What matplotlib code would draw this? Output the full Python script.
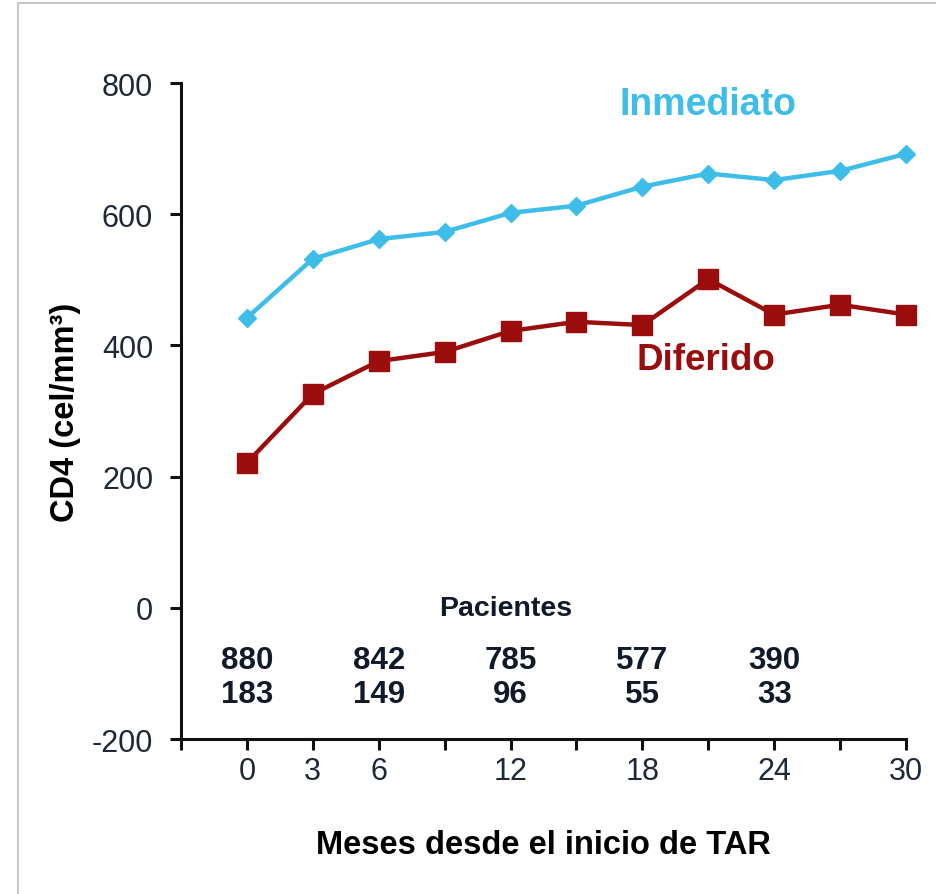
import matplotlib
matplotlib.use("Agg")
import matplotlib.pyplot as plt
from matplotlib.patches import Rectangle

months = [0, 3, 6, 9, 12, 15, 18, 21, 24, 27, 30]
inmediato = [442, 532, 562, 573, 602, 613, 642, 662, 652, 666, 692]
diferido = [221, 326, 376, 390, 422, 436, 431, 501, 447, 462, 447]
xtick_pos = [-3, 0, 3, 6, 9, 12, 15, 18, 21, 24, 27, 30]
xtick_labels = ["", "0", "3", "6", "", "12", "", "18", "", "24", "", "30"]
yticks = [-200, 0, 200, 400, 600, 800]
pac_x = [0, 6, 12, 18, 24]
pac_inm = ["880", "842", "785", "577", "390"]
pac_dif = ["183", "149", "96", "55", "33"]

plt.rcParams['font.family'] = ['Liberation Sans', 'DejaVu Sans']
plt.rcParams['axes.unicode_minus'] = False

fig = plt.figure(figsize=(9.36, 8.95), dpi=100)
fig.patches.append(Rectangle((18/936, -0.1), 1.2, (1 - 4/895) + 0.1, transform=fig.transFigure,
                             fill=False, edgecolor='#c8c8c8', linewidth=1.5))
ax = fig.add_axes([181/936, 1 - 740/895, (906 - 181)/936, (740 - 84)/895])

cyan = '#3dbde8'
red = '#9b0d0d'
tick_col = '#1e2838'
ax.plot(months, inmediato, color=cyan, lw=3.2, marker='D', markersize=9, clip_on=False, zorder=3)
ax.plot(months, diferido, color=red, lw=3.2, marker='s', markersize=14, clip_on=False, zorder=3)

ax.set_xlim(-3, 30)
ax.set_ylim(-200, 800)
ax.set_xticks(xtick_pos)
ax.set_xticklabels(xtick_labels)
ax.set_yticks(yticks)
for s in ['top', 'right']:
    ax.spines[s].set_visible(False)
for s in ['left', 'bottom']:
    ax.spines[s].set_linewidth(2.2)
    ax.spines[s].set_color('#111111')
ax.tick_params(axis='both', direction='out', width=2.2, length=8, color='#111111',
               labelsize=22, labelcolor=tick_col)
ax.tick_params(axis='x', pad=4)
ax.tick_params(axis='y', pad=12)

ax.set_xlabel("Meses desde el inicio de TAR", fontsize=23.5, fontweight='bold', labelpad=31)
ax.set_ylabel("CD4 (cel/mm³)", fontsize=23.5, fontweight='bold', labelpad=8)

ax.text(21, 768, "Inmediato", color=cyan, fontsize=27, fontweight='bold', ha='center', va='center')
ax.text(20.9, 378, "Diferido", color=red, fontsize=26.5, fontweight='bold', ha='center', va='center')

ax.text(11.8, 0, "Pacientes", color='#111a2a', fontsize=20.5, fontweight='bold', ha='center', va='center')
for x, a, b in zip(pac_x, pac_inm, pac_dif):
    ax.text(x, -79, a, color='#111a2a', fontsize=22.5, fontweight='bold', ha='center', va='center')
    ax.text(x, -131, b, color='#111a2a', fontsize=22.5, fontweight='bold', ha='center', va='center')

fig.savefig("out.png", dpi=100, facecolor='white')
